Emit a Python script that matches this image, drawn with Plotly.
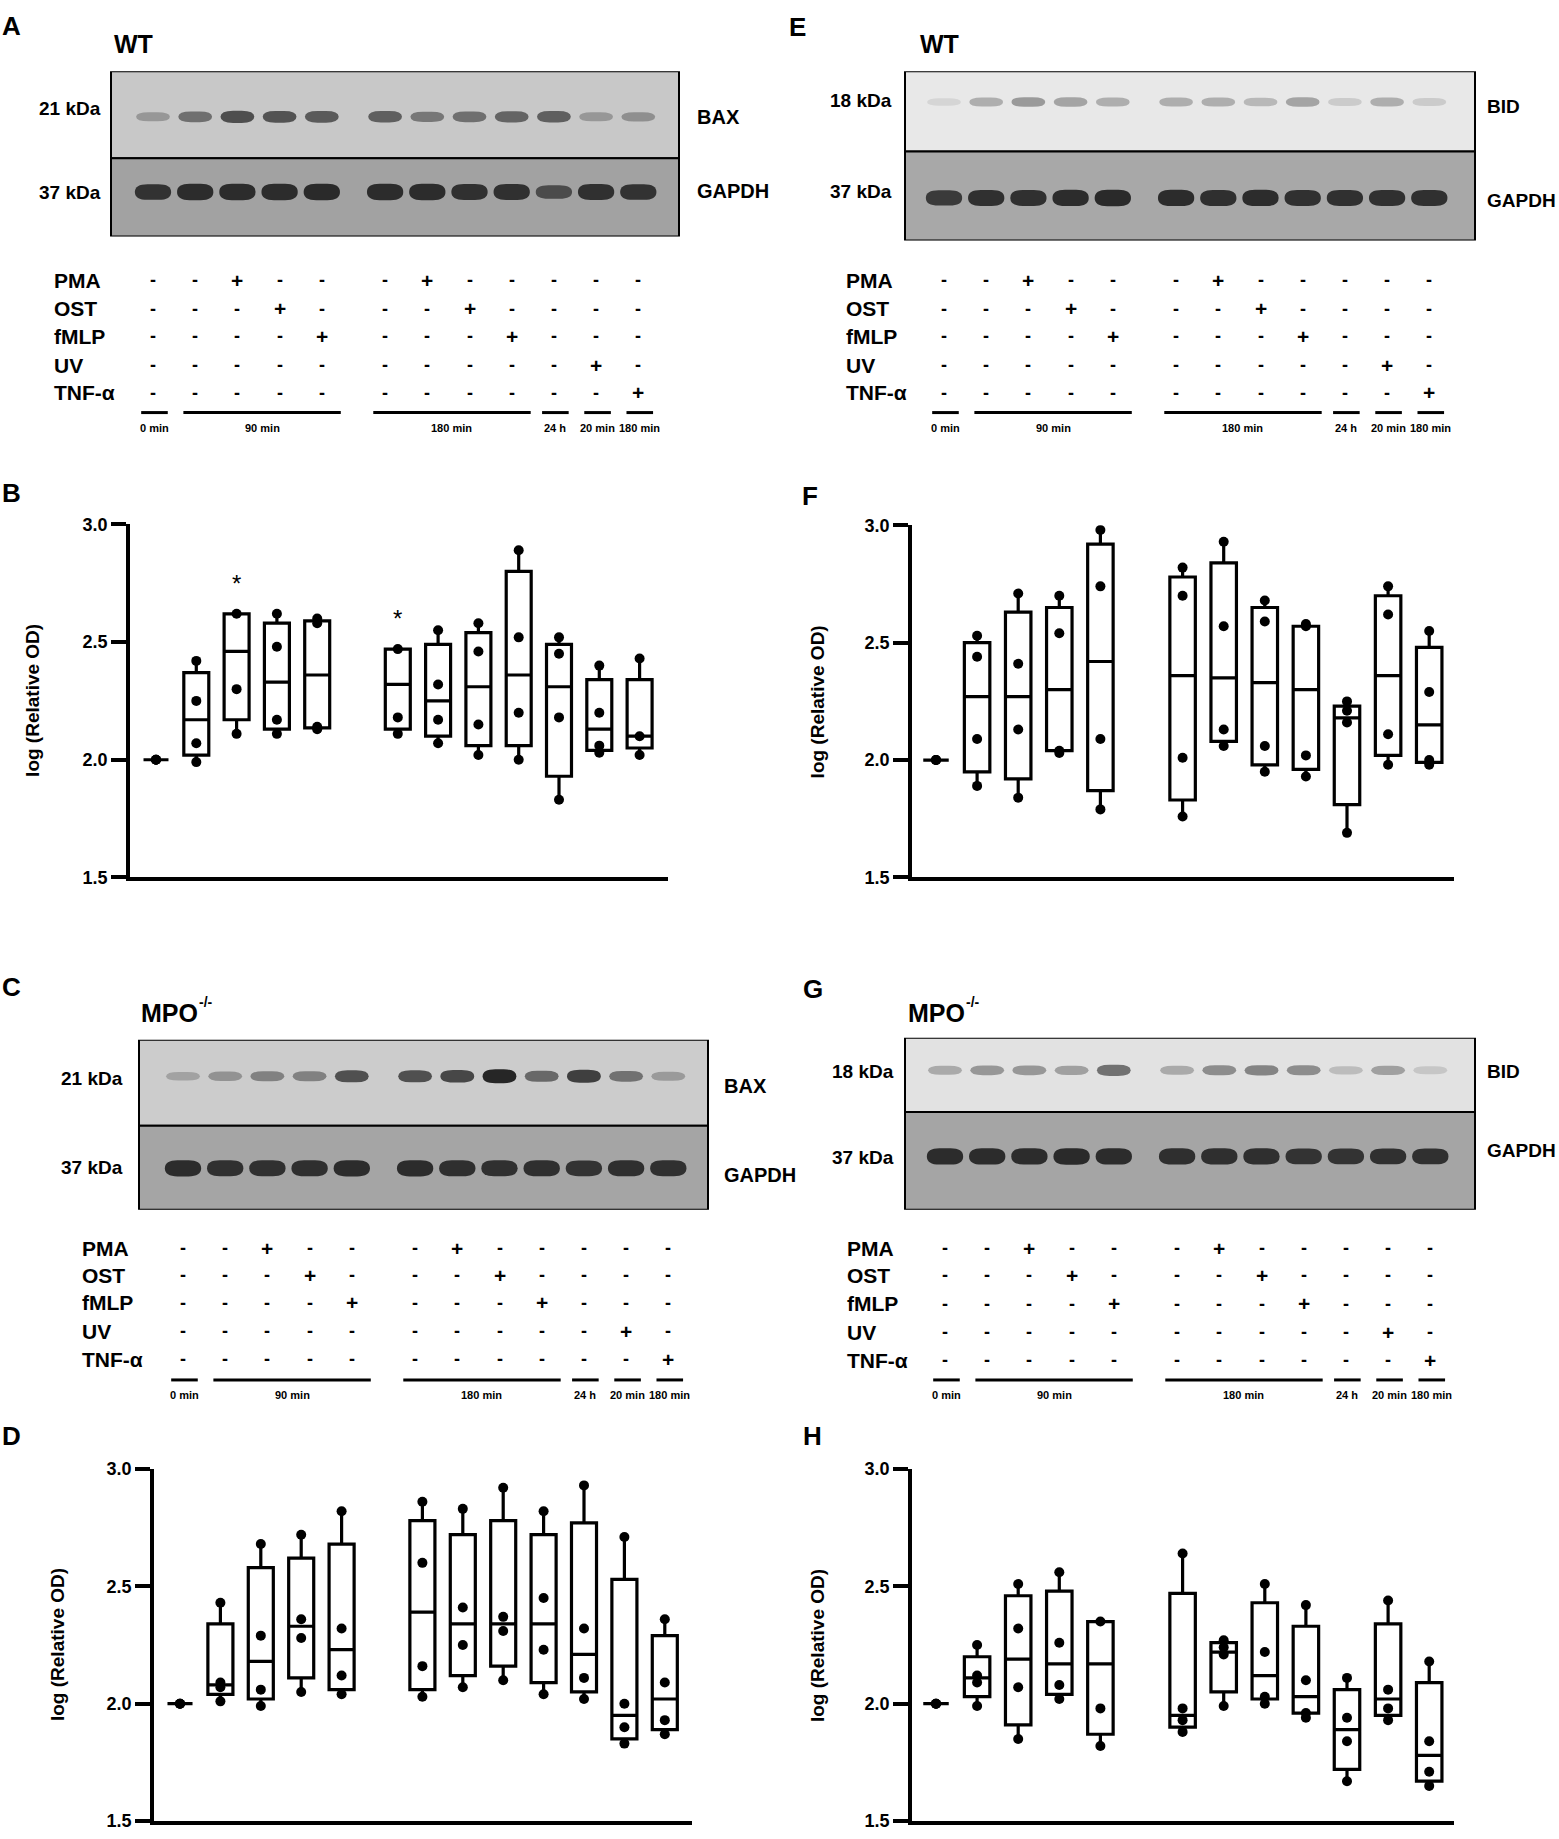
import plotly.graph_objects as go

W, H = 1559, 1839

# ---------------------------------------------------------------- data
# blot lanes: 0 min | 90 min x4 | 180 min x4 | 24 h | 20 min | 180 min
lane_pos = [0, 1, 2, 3, 4, 5.5, 6.5, 7.5, 8.5, 9.5, 10.5, 11.5]
box_pos = [0, 1, 2, 3, 4, 6, 7, 8, 9, 10, 11, 12]

treatments = ["PMA", "OST", "fMLP", "UV", "TNF-α"]
pma_signs = ["-", "-", "+", "-", "-", "-", "+", "-", "-", "-", "-", "-"]
ost_signs = ["-", "-", "-", "+", "-", "-", "-", "+", "-", "-", "-", "-"]
fmlp_signs = ["-", "-", "-", "-", "+", "-", "-", "-", "+", "-", "-", "-"]
uv_signs = ["-", "-", "-", "-", "-", "-", "-", "-", "-", "-", "+", "-"]
tnf_signs = ["-", "-", "-", "-", "-", "-", "-", "-", "-", "-", "-", "+"]

time_labels = ["0 min", "90 min", "180 min", "24 h", "20 min", "180 min"]
time_first = [0, 1, 5, 9, 10, 11]
time_last = [0, 4, 8, 9, 10, 11]

# band darkness per lane (0 = nothing, 1 = black)
a_bax = [0.30, 0.55, 0.75, 0.72, 0.68, 0.65, 0.50, 0.55, 0.62, 0.65, 0.30, 0.35]
a_gapdh = [0.90, 0.95, 0.95, 0.95, 0.97, 0.95, 0.95, 0.92, 0.92, 0.70, 0.92, 0.90]
c_bax = [0.25, 0.35, 0.45, 0.45, 0.75, 0.75, 0.80, 1.00, 0.60, 0.85, 0.55, 0.30]
c_gapdh = [0.95, 0.92, 0.92, 0.93, 0.95, 0.95, 0.93, 0.92, 0.93, 0.90, 0.93, 0.92]
e_bid = [0.10, 0.30, 0.40, 0.35, 0.30, 0.30, 0.30, 0.25, 0.35, 0.15, 0.30, 0.15]
e_gapdh = [0.85, 0.92, 0.92, 0.95, 0.97, 0.95, 0.93, 0.95, 0.92, 0.92, 0.92, 0.92]
g_bid = [0.30, 0.40, 0.40, 0.35, 0.60, 0.30, 0.45, 0.50, 0.45, 0.20, 0.35, 0.15]
g_gapdh = [0.95, 0.95, 0.95, 0.97, 0.95, 0.93, 0.93, 0.93, 0.90, 0.90, 0.92, 0.92]

# box stats: lower whisker, Q1, median, Q3, upper whisker + individual values
b_lo = [2.00, 1.99, 2.11, 2.11, 2.13, 2.11, 2.07, 2.02, 2.00, 1.83, 2.03, 2.02]
b_q1 = [2.00, 2.02, 2.17, 2.13, 2.135, 2.13, 2.10, 2.06, 2.06, 1.93, 2.04, 2.05]
b_med = [2.00, 2.17, 2.46, 2.33, 2.36, 2.32, 2.25, 2.31, 2.36, 2.31, 2.13, 2.10]
b_q3 = [2.00, 2.37, 2.62, 2.58, 2.59, 2.47, 2.49, 2.54, 2.80, 2.49, 2.34, 2.34]
b_hi = [2.00, 2.42, 2.62, 2.62, 2.60, 2.47, 2.55, 2.58, 2.89, 2.52, 2.40, 2.43]
b_pts = [[2.0, 2.0, 2.0], [1.99, 2.07, 2.25, 2.42], [2.11, 2.30, 2.62], [2.11, 2.17, 2.48, 2.62],
         [2.13, 2.14, 2.58, 2.60], [2.11, 2.18, 2.47], [2.07, 2.17, 2.32, 2.55], [2.02, 2.15, 2.46, 2.58],
         [2.00, 2.20, 2.52, 2.89], [1.83, 2.18, 2.45, 2.52], [2.03, 2.06, 2.20, 2.40], [2.02, 2.10, 2.43]]
b_star_box = [2, 5]
b_star_y = [2.75, 2.60]

d_lo = [2.00, 2.01, 1.99, 2.05, 2.04, 2.03, 2.07, 2.10, 2.04, 2.02, 1.83, 1.87]
d_q1 = [2.00, 2.04, 2.02, 2.11, 2.06, 2.06, 2.12, 2.16, 2.09, 2.05, 1.85, 1.89]
d_med = [2.00, 2.08, 2.18, 2.33, 2.23, 2.39, 2.34, 2.34, 2.34, 2.21, 1.95, 2.02]
d_q3 = [2.00, 2.34, 2.58, 2.62, 2.68, 2.78, 2.72, 2.78, 2.72, 2.77, 2.53, 2.29]
d_hi = [2.00, 2.43, 2.68, 2.72, 2.82, 2.86, 2.83, 2.92, 2.82, 2.93, 2.71, 2.36]
d_pts = [[2.0, 2.0, 2.0], [2.01, 2.07, 2.09, 2.43], [1.99, 2.06, 2.29, 2.68], [2.05, 2.28, 2.36, 2.72],
         [2.04, 2.12, 2.32, 2.82], [2.03, 2.16, 2.60, 2.86], [2.07, 2.25, 2.41, 2.83], [2.10, 2.31, 2.37, 2.92],
         [2.04, 2.23, 2.45, 2.82], [2.02, 2.11, 2.32, 2.93], [1.83, 1.90, 2.00, 2.71], [1.87, 1.93, 2.09, 2.36]]

f_lo = [2.00, 1.89, 1.84, 2.03, 1.79, 1.76, 2.06, 1.95, 1.93, 1.69, 1.98, 1.98]
f_q1 = [2.00, 1.95, 1.92, 2.04, 1.87, 1.83, 2.08, 1.98, 1.96, 1.81, 2.02, 1.99]
f_med = [2.00, 2.27, 2.27, 2.30, 2.42, 2.36, 2.35, 2.33, 2.30, 2.18, 2.36, 2.15]
f_q3 = [2.00, 2.50, 2.63, 2.65, 2.92, 2.78, 2.84, 2.65, 2.57, 2.23, 2.70, 2.48]
f_hi = [2.00, 2.53, 2.71, 2.70, 2.98, 2.82, 2.93, 2.68, 2.58, 2.25, 2.74, 2.55]
f_pts = [[2.0, 2.0, 2.0], [1.89, 2.09, 2.44, 2.53], [1.84, 2.13, 2.41, 2.71], [2.03, 2.04, 2.54, 2.70],
         [1.79, 2.09, 2.74, 2.98], [1.76, 2.01, 2.70, 2.82], [2.06, 2.13, 2.57, 2.93], [1.95, 2.06, 2.59, 2.68],
         [1.93, 2.02, 2.57, 2.58], [1.69, 2.16, 2.21, 2.25], [1.98, 2.11, 2.62, 2.74], [1.98, 2.00, 2.29, 2.55]]

h_lo = [2.00, 1.99, 1.85, 2.02, 1.82, 1.88, 1.99, 2.00, 1.94, 1.67, 1.93, 1.65]
h_q1 = [2.00, 2.03, 1.91, 2.04, 1.87, 1.90, 2.05, 2.02, 1.96, 1.72, 1.95, 1.67]
h_med = [2.00, 2.11, 2.19, 2.17, 2.17, 1.95, 2.22, 2.12, 2.03, 1.89, 2.02, 1.78]
h_q3 = [2.00, 2.20, 2.46, 2.48, 2.35, 2.47, 2.26, 2.43, 2.33, 2.06, 2.34, 2.09]
h_hi = [2.00, 2.25, 2.51, 2.56, 2.35, 2.64, 2.27, 2.51, 2.42, 2.11, 2.44, 2.18]
h_pts = [[2.0, 2.0, 2.0], [1.99, 2.09, 2.12, 2.25], [1.85, 2.07, 2.32, 2.51], [2.02, 2.08, 2.26, 2.56],
         [1.82, 1.98, 2.35], [1.88, 1.93, 1.98, 2.64], [1.99, 2.21, 2.24, 2.27], [2.00, 2.03, 2.22, 2.51],
         [1.94, 1.96, 2.10, 2.42], [1.67, 1.84, 1.94, 2.11], [1.93, 1.98, 2.06, 2.44], [1.65, 1.71, 1.84, 2.18]]

# ---------------------------------------------------------------- style
SANS = "Liberation Sans, Arial, Helvetica, sans-serif"
DARK = (38, 38, 38)


def px_x(v):
    return v / W


def px_y(v):
    return 1 - v / H


def mix(bg, k):
    c = [round(bg[i] + (DARK[i] - bg[i]) * k) for i in range(3)]
    return f"rgb({c[0]},{c[1]},{c[2]})"


def pill(xc, yc, w, h, r):
    xl, xr = xc - w / 2, xc + w / 2
    yt, yb = yc - h / 2, yc + h / 2
    return (f"M {xl + r},{yt} L {xr - r},{yt} Q {xr},{yt} {xr},{yc} Q {xr},{yb} {xr - r},{yb} "
            f"L {xl + r},{yb} Q {xl},{yb} {xl},{yc} Q {xl},{yt} {xl + r},{yt} Z")


fig = go.Figure()
annotations = []
shapes = []


def text(x, y, s, size, xanchor="center", xref="paper", weight="bold", angle=0):
    annotations.append(dict(x=x, y=y, xref=xref, yref="paper", text=s, showarrow=False,
                            xanchor=xanchor, yanchor="middle", textangle=angle,
                            font=dict(family=SANS, size=size, color="black", weight=weight)))


# ---------------------------------------------------------------- box plots
box_panels = [
    dict(ax="", letter="B", lpos=(0, 488), stats=(b_lo, b_q1, b_med, b_q3, b_hi), pts=b_pts,
         x0=130, x1=668, ytop=520, ybot=877, c0=156, step=40.3, title_x=33),
    dict(ax="2", letter="D", lpos=(0, 1442), stats=(d_lo, d_q1, d_med, d_q3, d_hi), pts=d_pts,
         x0=154, x1=692, ytop=1475, ybot=1831, c0=180, step=40.4, title_x=57),
    dict(ax="3", letter="F", lpos=(800, 491), stats=(f_lo, f_q1, f_med, f_q3, f_hi), pts=f_pts,
         x0=912, x1=1454, ytop=521, ybot=877, c0=936, step=41.1, title_x=817),
    dict(ax="4", letter="H", lpos=(801, 1442), stats=(h_lo, h_q1, h_med, h_q3, h_hi), pts=h_pts,
         x0=912, x1=1454, ytop=1475, ybot=1831, c0=936, step=41.1, title_x=817),
]

for p in box_panels:
    lo, q1, med, q3, hi = p["stats"]
    xa, ya = "x" + p["ax"], "y" + p["ax"]
    fig.add_trace(go.Box(x=box_pos, lowerfence=lo, q1=q1, median=med, q3=q3, upperfence=hi,
                         xaxis=xa, yaxis=ya, width=0.62, whiskerwidth=0, fillcolor="white",
                         line=dict(color="black", width=3.2), boxpoints=False, hoverinfo="skip"))
    xs, ys = [], []
    for i, vals in enumerate(p["pts"]):
        xs += [box_pos[i]] * len(vals)
        ys += vals
    fig.add_trace(go.Scatter(x=xs, y=ys, xaxis=xa, yaxis=ya, mode="markers",
                             marker=dict(color="black", size=10), hoverinfo="skip"))
    fig.layout["xaxis" + p["ax"]] = dict(
        domain=[px_x(p["x0"]), px_x(p["x1"])], anchor=ya,
        range=[(p["x0"] - p["c0"]) / p["step"], (p["x1"] - p["c0"]) / p["step"]],
        showline=True, linecolor="black", linewidth=3.5, showticklabels=False, ticks="",
        showgrid=False, zeroline=False)
    fig.layout["yaxis" + p["ax"]] = dict(
        domain=[px_y(p["ybot"]), px_y(p["ytop"])], anchor=xa, range=[1.5, 3.0],
        tickvals=[1.5, 2.0, 2.5, 3.0], ticktext=["1.5", "2.0", "2.5", "3.0"],
        showline=True, linecolor="black", linewidth=3.5, ticks="outside", ticklen=15, tickwidth=3.5,
        tickcolor="black", showgrid=False, zeroline=False,
        tickfont=dict(family=SANS, size=18, color="black", weight="bold"))
    text(px_x(p["lpos"][0]), px_y(p["lpos"][1]), p["letter"], 26, xanchor="left")
    text(px_x(p["title_x"]), px_y((p["ytop"] + p["ybot"]) / 2), "log (Relative OD)", 19, angle=-90)

for i, yv in zip(b_star_box, b_star_y):
    annotations.append(dict(x=box_pos[i], y=yv, xref="x", yref="y", text="*", showarrow=False,
                            font=dict(family=SANS, size=24, color="black")))

# ---------------------------------------------------------------- western blots
blots = [
    dict(ax="5", letter="A", lpos=(0, 16), geno="WT", gpos=(112, 34), sup=None, x0=111, x1=679,
         ytop=62, ymid=150, ybot=229, lane0=153, prot="BAX", kda="21 kDa", p_int=a_bax, g_int=a_gapdh,
         kda_x=103, kda_py=100, kda_gy=185, name_x=695, name_py=108, name_gy=183, name_size=20,
         p_band=108, g_band=184, top_bg=(200, 200, 200), bot_bg=(162, 162, 162), label_x=52,
         rows=[273, 302, 330, 359, 387], line_y=407, time_y=423),
    dict(ax="6", letter="C", lpos=(0, 988), geno="MPO", gpos=(139, 1014), sup=(197, 1003), x0=139, x1=708,
         ytop=1041, ymid=1128, ybot=1213, lane0=183, prot="BAX", kda="21 kDa", p_int=c_bax, g_int=c_gapdh,
         kda_x=125, kda_py=1080, kda_gy=1170, name_x=722, name_py=1088, name_gy=1178, name_size=20,
         p_band=1078, g_band=1171, top_bg=(204, 204, 204), bot_bg=(165, 165, 165), label_x=80,
         rows=[1252, 1279, 1307, 1336, 1364], line_y=1385, time_y=1400),
    dict(ax="7", letter="E", lpos=(787, 17), geno="WT", gpos=(918, 34), sup=None, x0=905, x1=1475,
         ytop=62, ymid=143, ybot=233, lane0=944, prot="BID", kda="18 kDa", p_int=e_bid, g_int=e_gapdh,
         kda_x=894, kda_py=91, kda_gy=183, name_x=1485, name_py=98, name_gy=193, name_size=19,
         p_band=93, g_band=190, top_bg=(232, 232, 232), bot_bg=(168, 168, 168), label_x=844,
         rows=[273, 302, 330, 359, 387], line_y=407, time_y=423),
    dict(ax="8", letter="G", lpos=(801, 990), geno="MPO", gpos=(906, 1014), sup=(964, 1003), x0=905, x1=1475,
         ytop=1039, ymid=1114, ybot=1213, lane0=945, prot="BID", kda="18 kDa", p_int=g_bid, g_int=g_gapdh,
         kda_x=896, kda_py=1073, kda_gy=1160, name_x=1485, name_py=1073, name_gy=1153, name_size=19,
         p_band=1072, g_band=1159, top_bg=(226, 226, 226), bot_bg=(165, 165, 165), label_x=845,
         rows=[1252, 1279, 1308, 1337, 1365], line_y=1385, time_y=1400),
]
sign_rows = [pma_signs, ost_signs, fmlp_signs, uv_signs, tnf_signs]
LANE_PX = 42.2

for b in blots:
    xa, ya = "x" + b["ax"], "y" + b["ax"]
    fig.layout["xaxis" + b["ax"]] = dict(
        domain=[px_x(b["x0"]), px_x(b["x1"])], anchor=ya, visible=False,
        range=[(b["x0"] - b["lane0"]) / LANE_PX, (b["x1"] - b["lane0"]) / LANE_PX])
    fig.layout["yaxis" + b["ax"]] = dict(
        domain=[px_y(b["ybot"]), px_y(b["ytop"])], anchor=xa, visible=False,
        range=[b["ybot"], b["ytop"]])
    # membrane strips
    for y0, y1, bg in [(b["ytop"], b["ymid"], b["top_bg"]), (b["ymid"], b["ybot"], b["bot_bg"])]:
        shapes.append(dict(type="rect", xref=xa + " domain", yref=ya, x0=0, x1=1, y0=y0, y1=y1,
                           fillcolor=f"rgb{bg}", line=dict(color="black", width=2), layer="below"))
    # bands
    for i, lp in enumerate(lane_pos):
        k = b["p_int"][i]
        shapes.append(dict(type="path", xref=xa, yref=ya, line=dict(width=0),
                           fillcolor=mix(b["top_bg"], k),
                           path=pill(lp, b["p_band"], 0.8, 7 + 7 * k, 0.3)))
        k = b["g_int"][i]
        shapes.append(dict(type="path", xref=xa, yref=ya, line=dict(width=0),
                           fillcolor=mix(b["bot_bg"], k),
                           path=pill(lp, b["g_band"], 0.86, 6 + 11 * k, 0.3)))
    # labels around the blot
    text(px_x(b["lpos"][0]), px_y(b["lpos"][1]), b["letter"], 26, xanchor="left")
    text(px_x(b["gpos"][0]), px_y(b["gpos"][1]), b["geno"], 25, xanchor="left")
    if b["sup"]:
        text(px_x(b["sup"][0]), px_y(b["sup"][1]), "-/-", 14, xanchor="left")
    text(px_x(b["kda_x"]), px_y(b["kda_py"]), b["kda"], 19, xanchor="right")
    text(px_x(b["kda_x"]), px_y(b["kda_gy"]), "37 kDa", 19, xanchor="right")
    text(px_x(b["name_x"]), px_y(b["name_py"]), b["prot"], b["name_size"], xanchor="left")
    text(px_x(b["name_x"]), px_y(b["name_gy"]), "GAPDH", b["name_size"], xanchor="left")
    # treatment table
    for r, (lab, signs) in enumerate(zip(treatments, sign_rows)):
        yv = px_y(b["rows"][r])
        text(px_x(b["label_x"]), yv, lab, 21, xanchor="left")
        for i, s in enumerate(signs):
            text(lane_pos[i], yv, s, 21 if s == "+" else 18, xref=xa)
    # time bars
    for lab, f0, f1 in zip(time_labels, time_first, time_last):
        xl = lane_pos[f0] - 0.28
        xr = lane_pos[f1] + (0.45 if f1 > f0 else 0.35)
        shapes.append(dict(type="line", xref=xa, yref="paper", x0=xl, x1=xr,
                           y0=px_y(b["line_y"]), y1=px_y(b["line_y"]), line=dict(color="black", width=3)))
        text((xl + xr) / 2, px_y(b["time_y"]), lab, 11, xref=xa)

fig.update_layout(
    width=W, height=H, margin=dict(l=0, r=0, t=0, b=0),
    paper_bgcolor="white", plot_bgcolor="rgba(0,0,0,0)", showlegend=False,
    annotations=annotations, shapes=shapes,
)
fig.write_html("out.html", config={"displayModeBar": False},
               post_script="document.body.style.margin = '0';")
